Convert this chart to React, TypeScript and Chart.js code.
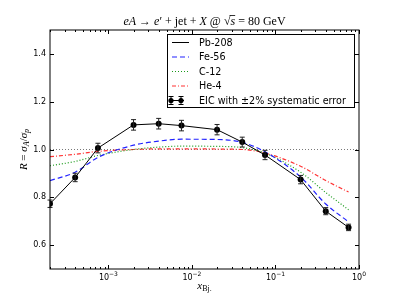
import React, { useEffect, useRef } from 'react';
import { Chart, registerables } from 'chart.js';
Chart.register(...registerables);

// ---- data ----
const xBj = [2e-4, 4e-4, 7.5e-4, 2e-3, 4e-3, 7.5e-3, 2e-2, 4e-2, 7.5e-2, 0.2, 0.4, 0.75];
const pb208 = [0.773, 0.883, 1.006, 1.103, 1.108, 1.1, 1.083, 1.031, 0.977, 0.874, 0.742, 0.674];
const fe56 = [0.87, 0.905, 0.967, 1.018, 1.035, 1.043, 1.042, 1.03, 0.99, 0.885, 0.772, 0.697];
const c12 = [0.932, 0.95, 0.975, 1.0, 1.01, 1.014, 1.013, 1.008, 0.985, 0.905, 0.82, 0.748];
const he4 = [0.97, 0.98, 0.992, 1.0, 1.003, 1.003, 1.002, 1.0, 0.985, 0.93, 0.87, 0.822];
const sysErr = 0.02;
const refLineX = [2e-4, 1];
const refLineY = [1.0, 1.0];
const yTicks = [0.6, 0.8, 1.0, 1.2, 1.4];
const xTicks = [1e-3, 1e-2, 1e-1, 1];
const xTickExp = ['\u22123', '\u22122', '\u22121', '0'];
const legendLabels = ['Pb-208', 'Fe-56', 'C-12', 'He-4', 'EIC with \u00b12% systematic error'];

const X_MIN = 2e-4, X_MAX = 1, Y_MIN = 0.5, Y_MAX = 1.5;

const pts = (xs: number[], ys: number[]) => xs.map((x, i) => ({ x, y: ys[i] }));

type Seg = { t: string; f: string; dy?: number; over?: boolean };

function drawRich(ctx: CanvasRenderingContext2D, segs: Seg[], cx: number, by: number) {
  let w = 0;
  const ws = segs.map((s) => { ctx.font = s.f; const m = ctx.measureText(s.t).width; w += m; return m; });
  let x = cx - w / 2;
  ctx.textAlign = 'left';
  ctx.textBaseline = 'alphabetic';
  segs.forEach((s, i) => {
    ctx.font = s.f;
    ctx.fillText(s.t, x, by + (s.dy || 0));
    if (s.over) {
      ctx.save();
      ctx.lineWidth = 0.8;
      ctx.beginPath();
      ctx.moveTo(x - 1, by - 9.5);
      ctx.lineTo(x + ws[i], by - 9.5);
      ctx.stroke();
      ctx.restore();
    }
    x += ws[i];
  });
}

const decor = {
  id: 'decor',
  afterDatasetsDraw(chart: any) {
    const { ctx, scales } = chart;
    const xs = scales.x, ys = scales.y;
    ctx.save();
    ctx.strokeStyle = '#222';
    ctx.lineWidth = 1;
    xBj.forEach((xv, i) => {
      const px = xs.getPixelForValue(xv);
      const y0 = ys.getPixelForValue(pb208[i] * (1 - sysErr));
      const y1 = ys.getPixelForValue(pb208[i] * (1 + sysErr));
      ctx.beginPath();
      ctx.moveTo(px, y0); ctx.lineTo(px, y1);
      ctx.moveTo(px - 2.5, y0); ctx.lineTo(px + 2.5, y0);
      ctx.moveTo(px - 2.5, y1); ctx.lineTo(px + 2.5, y1);
      ctx.stroke();
    });
    ctx.restore();
  },
  afterDraw(chart: any) {
    const { ctx, chartArea: a, scales } = chart;
    const xs = scales.x, ys = scales.y;
    ctx.save();
    // frame
    ctx.strokeStyle = '#000';
    ctx.lineWidth = 1;
    ctx.strokeRect(a.left, a.top, a.right - a.left, a.bottom - a.top);
    // x ticks (major + minor), inward top & bottom
    ctx.beginPath();
    for (let e = -4; e <= 0; e++) {
      for (let m = 1; m <= 9; m++) {
        const v = m * Math.pow(10, e);
        if (v < X_MIN - 1e-12 || v > X_MAX + 1e-12) continue;
        const px = Math.round(xs.getPixelForValue(v)) + 0.5;
        const len = m === 1 ? 4 : 2;
        ctx.moveTo(px, a.bottom); ctx.lineTo(px, a.bottom - len);
        ctx.moveTo(px, a.top); ctx.lineTo(px, a.top + len);
      }
    }
    yTicks.forEach((v) => {
      const py = Math.round(ys.getPixelForValue(v)) + 0.5;
      ctx.moveTo(a.left, py); ctx.lineTo(a.left + 4, py);
      ctx.moveTo(a.right, py); ctx.lineTo(a.right - 4, py);
    });
    ctx.stroke();

    // x tick labels
    ctx.fillStyle = '#000';
    xTicks.forEach((v, i) => {
      const px = xs.getPixelForValue(v);
      ctx.font = "8px 'DejaVu Sans'";
      const w1 = ctx.measureText('10').width;
      ctx.font = "6px 'DejaVu Sans'";
      const w2 = ctx.measureText(xTickExp[i]).width;
      const x0 = px - (w1 + w2) / 2;
      ctx.textAlign = 'left';
      ctx.textBaseline = 'alphabetic';
      ctx.font = "8px 'DejaVu Sans'";
      ctx.fillText('10', x0, a.bottom + 10.5);
      ctx.font = "6px 'DejaVu Sans'";
      ctx.fillText(xTickExp[i], x0 + w1, a.bottom + 6.5);
    });

    // title
    const S = "12px 'Liberation Serif'";
    const I = "italic 12px 'Liberation Serif'";
    drawRich(ctx, [
      { t: 'eA', f: I }, { t: ' \u2192 ', f: S }, { t: 'e', f: I }, { t: '\u2032', f: S },
      { t: ' + jet + ', f: S }, { t: 'X', f: I }, { t: ' @ ', f: S }, { t: '\u221a', f: S },
      { t: 's', f: I, over: true }, { t: ' = 80 GeV', f: S },
    ], (a.left + a.right) / 2, a.top - 5);

    // x label
    drawRich(ctx, [
      { t: 'x', f: "italic 11px 'Liberation Serif'" },
      { t: 'Bj.', f: "8px 'Liberation Serif'", dy: 2 },
    ], (a.left + a.right) / 2, 289);

    // y label
    ctx.save();
    ctx.translate(27, (a.top + a.bottom) / 2);
    ctx.rotate(-Math.PI / 2);
    drawRich(ctx, [
      { t: 'R', f: "italic 11px 'Liberation Serif'" },
      { t: ' = ', f: "11px 'Liberation Serif'" },
      { t: '\u03c3', f: "italic 11px 'Liberation Serif'" },
      { t: 'A', f: "italic 8px 'Liberation Serif'", dy: 2 },
      { t: '/', f: "11px 'Liberation Serif'" },
      { t: '\u03c3', f: "italic 11px 'Liberation Serif'" },
      { t: 'p', f: "italic 8px 'Liberation Serif'", dy: 2 },
    ], 0, 0);
    ctx.restore();

    // legend
    const lx = 167.5, ly = 34.5, lw = 187, lh = 73;
    ctx.fillStyle = '#fff';
    ctx.fillRect(lx, ly, lw, lh);
    ctx.strokeStyle = '#000';
    ctx.lineWidth = 1;
    ctx.strokeRect(lx, ly, lw, lh);
    const rowY = [42.5, 57, 71.5, 86, 100.5];
    const styles = chart.data.datasets;
    for (let r = 0; r < 4; r++) {
      const ds = styles[r];
      ctx.save();
      ctx.strokeStyle = ds.borderColor;
      ctx.lineWidth = ds.borderWidth;
      ctx.setLineDash(ds.borderDash || []);
      ctx.beginPath();
      ctx.moveTo(172, rowY[r]); ctx.lineTo(189, rowY[r]);
      ctx.stroke();
      ctx.restore();
    }
    // EIC legend: two markers with error bars
    ctx.save();
    ctx.strokeStyle = '#000';
    ctx.fillStyle = '#000';
    ctx.lineWidth = 1;
    const ey = rowY[4];
    ctx.beginPath();
    ctx.moveTo(169, ey); ctx.lineTo(184, ey);
    [171, 181].forEach((mx) => {
      ctx.moveTo(mx, ey - 4); ctx.lineTo(mx, ey + 4);
      ctx.moveTo(mx - 2.5, ey - 4); ctx.lineTo(mx + 2.5, ey - 4);
      ctx.moveTo(mx - 2.5, ey + 4); ctx.lineTo(mx + 2.5, ey + 4);
    });
    ctx.stroke();
    [171, 181].forEach((mx) => {
      ctx.beginPath(); ctx.arc(mx, ey, 2.6, 0, Math.PI * 2); ctx.fill();
    });
    ctx.restore();
    ctx.fillStyle = '#000';
    ctx.font = "9.6px 'DejaVu Sans'";
    ctx.textAlign = 'left';
    ctx.textBaseline = 'middle';
    legendLabels.forEach((t, r) => ctx.fillText(t, 199, rowY[r] + 0.5));
    ctx.restore();
  },
};

export default function App() {
  const ref = useRef<HTMLCanvasElement>(null);
  useEffect(() => {
    if (!ref.current) return;
    const chart = new Chart(ref.current, {
      type: 'scatter',
      data: {
        datasets: [
          { label: 'Pb-208', data: pts(xBj, pb208), showLine: true, borderColor: '#000', backgroundColor: '#000', borderWidth: 1, pointRadius: 3, pointBorderWidth: 0 },
          { label: 'Fe-56', data: pts(xBj, fe56), showLine: true, borderColor: '#2222ff', borderWidth: 1.2, borderDash: [5, 3], pointRadius: 0, cubicInterpolationMode: 'monotone' },
          { label: 'C-12', data: pts(xBj, c12), showLine: true, borderColor: '#1a9a1a', borderWidth: 1.2, borderDash: [1, 2], pointRadius: 0, cubicInterpolationMode: 'monotone' },
          { label: 'He-4', data: pts(xBj, he4), showLine: true, borderColor: '#ff3333', borderWidth: 1.2, borderDash: [4, 2, 1, 2], pointRadius: 0, cubicInterpolationMode: 'monotone' },
          { label: 'ref', data: pts(refLineX, refLineY), showLine: true, borderColor: '#555', borderWidth: 0.8, borderDash: [1, 2], pointRadius: 0 },
        ],
      } as any,
      options: {
        responsive: false,
        animation: false,
        layout: { padding: { top: 30, right: 40, left: 0, bottom: 0 } },
        plugins: { legend: { display: false }, tooltip: { enabled: false }, title: { display: false } },
        scales: {
          x: {
            type: 'logarithmic', min: X_MIN, max: X_MAX,
            grid: { display: false, drawTicks: false },
            border: { display: false },
            ticks: { display: false },
            afterFit: (s: any) => { s.height = 30; },
          },
          y: {
            type: 'linear', min: Y_MIN, max: Y_MAX,
            grid: { display: false, drawTicks: false },
            border: { display: false },
            afterBuildTicks: (s: any) => { s.ticks = yTicks.map((v) => ({ value: v })); },
            ticks: {
              padding: 4, color: '#000',
              font: { family: 'DejaVu Sans', size: 8 },
              callback: (v: any) => Number(v).toFixed(1),
            },
            afterFit: (s: any) => { s.width = 50; },
          },
        },
      } as any,
      plugins: [decor],
    });
    return () => chart.destroy();
  }, []);
  return (
    <div style={{ position: 'fixed', left: 0, top: 0, width: 399, height: 299, background: '#fff' }}>
      <canvas ref={ref} width={399} height={299} style={{ display: 'block' }} />
    </div>
  );
}
